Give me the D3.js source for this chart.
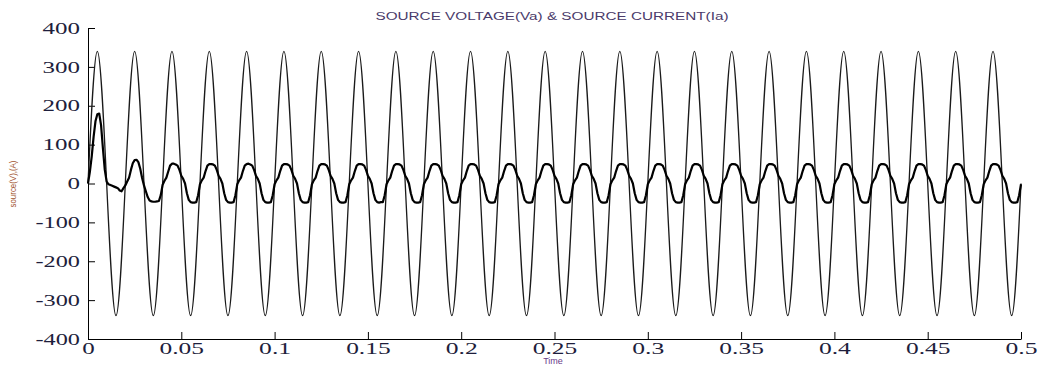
<!DOCTYPE html>
<html>
<head>
<meta charset="utf-8">
<script src="https://cdn.jsdelivr.net/npm/d3@7"></script>
<style>
  body { margin: 0; background: #fff; }
  .axis path, .axis line { stroke: #000; }
</style>
</head>
<body>
<svg id="chart" width="1038" height="365"></svg>
<script>
// time grid of the sampled current (s)
const sampleStep = 0.001;
const halfPeriod = 0.01;

// source voltage, one peak per half cycle (V)
const voltagePeaks = [
  340, -340, 340, -340, 340, -340, 340, -340, 340, -340,
  340, -340, 340, -340, 340, -340, 340, -340, 340, -340,
  340, -340, 340, -340, 340, -340, 340, -340, 340, -340,
  340, -340, 340, -340, 340, -340, 340, -340, 340, -340,
  340, -340, 340, -340, 340, -340, 340, -340, 340, -340
];

// source current sampled every 1 ms (A), one row per 20 ms cycle
const currentValues = [
  0, 30, 70, 120, 160, 178, 180, 150, 90, 35, 5, -2, -4, -6, -8, -10, -12, -18, -20, -12,
  -5, 5, 15, 35, 52, 60, 61, 55, 38, 14, -5, -20, -35, -44, -46, -47, -47, -46, -45, -30,
  -3, 7, 15, 31, 46, 51, 51, 49, 46, 35, 20, 12, 0, -25, -42, -48, -49, -49, -48, -30,
  -2, 8, 15, 32, 46, 50, 50, 49, 46, 35, 20, 12, 0, -25, -42, -48, -49, -49, -48, -30,
  -2, 8, 15, 32, 46, 50, 51, 49, 46, 35, 20, 12, 0, -25, -42, -48, -49, -49, -48, -30,
  -2, 8, 15, 32, 46, 50, 50, 49, 46, 35, 20, 12, 0, -25, -42, -48, -49, -49, -48, -30,
  -2, 8, 15, 32, 46, 50, 50, 49, 46, 35, 20, 12, 0, -25, -42, -48, -49, -49, -48, -30,
  -2, 8, 15, 32, 46, 50, 50, 49, 46, 35, 20, 12, 0, -25, -42, -48, -49, -48, -48, -30,
  -2, 8, 15, 32, 46, 50, 50, 49, 46, 35, 20, 12, 0, -25, -42, -48, -49, -49, -48, -30,
  -2, 8, 15, 32, 46, 50, 50, 49, 46, 35, 20, 12, 0, -25, -42, -48, -49, -49, -48, -30,
  -2, 8, 15, 32, 46, 50, 50, 49, 46, 35, 20, 12, 0, -25, -42, -48, -49, -49, -48, -30,
  -2, 8, 15, 32, 46, 50, 50, 49, 46, 35, 20, 12, 0, -25, -42, -48, -49, -49, -48, -30,
  -2, 8, 15, 32, 46, 50, 50, 49, 46, 35, 20, 12, 0, -25, -42, -48, -49, -49, -48, -30,
  -2, 8, 15, 32, 46, 50, 50, 49, 46, 35, 20, 12, 0, -25, -42, -48, -49, -49, -48, -30,
  -2, 8, 15, 32, 46, 50, 50, 49, 46, 35, 20, 12, 0, -25, -42, -48, -49, -49, -48, -30,
  -2, 8, 15, 32, 46, 50, 50, 49, 46, 35, 20, 12, 0, -25, -42, -48, -49, -49, -48, -30,
  -2, 8, 15, 32, 46, 50, 50, 49, 46, 35, 20, 12, 0, -25, -42, -48, -49, -49, -48, -30,
  -2, 8, 15, 32, 46, 50, 50, 49, 46, 35, 20, 12, 0, -25, -42, -48, -49, -49, -48, -30,
  -2, 8, 15, 32, 46, 50, 50, 49, 46, 35, 20, 12, 0, -25, -42, -48, -49, -49, -48, -30,
  -2, 8, 15, 32, 46, 50, 50, 49, 46, 35, 20, 12, 0, -25, -42, -48, -49, -49, -48, -30,
  -2, 8, 15, 32, 46, 50, 50, 49, 46, 35, 20, 12, 0, -25, -42, -48, -49, -49, -48, -30,
  -2, 8, 15, 32, 46, 50, 50, 49, 46, 35, 20, 12, 0, -25, -42, -48, -49, -49, -48, -30,
  -2, 8, 15, 32, 46, 50, 50, 49, 46, 35, 20, 12, 0, -25, -42, -48, -49, -49, -48, -30,
  -2, 8, 15, 32, 46, 50, 50, 49, 46, 35, 20, 12, 0, -25, -42, -48, -49, -49, -48, -30,
  -2, 8, 15, 32, 46, 50, 50, 49, 46, 35, 20, 12, 0, -25, -42, -48, -49, -49, -48, -30,
  -2
];

const xTicks = [0, 0.05, 0.1, 0.15, 0.2, 0.25, 0.3, 0.35, 0.4, 0.45, 0.5];
const yTicks = [-400, -300, -200, -100, 0, 100, 200, 300, 400];

const svg = d3.select('#chart');
const margin = { top: 28, right: 17, bottom: 26, left: 88 };
const width = +svg.attr('width');
const height = +svg.attr('height');
const innerWidth = width - margin.left - margin.right;
const innerHeight = height - margin.top - margin.bottom;

const grp = svg.append('g')
  .attr('transform', 'translate(' + margin.left + ',' + margin.top + ')');

const xScale = d3.scaleLinear().domain([0, 0.5]).range([0, innerWidth]);
const yScale = d3.scaleLinear().domain([-400, 400]).range([innerHeight, 0]);

// voltage: zero crossings plus the peak of each half cycle
const voltageData = [];
voltagePeaks.forEach((p, i) => {
  voltageData.push({ t: i * halfPeriod, v: 0 });
  voltageData.push({ t: i * halfPeriod + halfPeriod / 2, v: p });
});
voltageData.push({ t: voltagePeaks.length * halfPeriod, v: 0 });

const currentData = currentValues.map((v, i) => ({ t: i * sampleStep, v: v }));

const voltageLine = d3.line()
  .x((d) => xScale(d.t))
  .y((d) => yScale(d.v))
  .curve(d3.curveNatural);

const currentLine = d3.line()
  .x((d) => xScale(d.t))
  .y((d) => yScale(d.v));

// the old plot stretches its serif digits, so give each label a set width
function labelWidth(s) {
  let w = 0;
  for (const c of s) w += (c === '.' || c === '-') ? 7 : 12.5;
  return w;
}

function styleTicks(sel) {
  sel.selectAll('.tick text')
    .style('font-family', '"Liberation Serif", "Times New Roman", serif')
    .style('font-size', '16px')
    .style('fill', '#1e1e3c')
    .attr('textLength', function () { return labelWidth(this.textContent); })
    .attr('lengthAdjust', 'spacingAndGlyphs');
}

grp.append('g')
  .attr('class', 'axis')
  .attr('transform', 'translate(0,' + innerHeight + ')')
  .call(d3.axisBottom(xScale).tickValues(xTicks).tickFormat((d) => String(d))
    .tickSizeInner(-7).tickSizeOuter(0).tickPadding(4))
  .call(styleTicks);

grp.append('g')
  .attr('class', 'axis')
  .call(d3.axisLeft(yScale).tickValues(yTicks).tickFormat((d) => String(d))
    .tickSizeInner(-7).tickSizeOuter(0).tickPadding(8))
  .call(styleTicks);

grp.append('path')
  .datum(voltageData)
  .attr('fill', 'none')
  .attr('stroke', '#1a1a1a')
  .attr('stroke-width', 1.3)
  .attr('d', voltageLine);

grp.append('path')
  .datum(currentData)
  .attr('fill', 'none')
  .attr('stroke', '#000')
  .attr('stroke-width', 2.2)
  .attr('stroke-linejoin', 'round')
  .attr('d', currentLine);

svg.append('text')
  .attr('x', 552)
  .attr('y', 20)
  .attr('text-anchor', 'middle')
  .attr('textLength', 353)
  .attr('lengthAdjust', 'spacingAndGlyphs')
  .style('font-family', 'Liberation Sans, Arial, sans-serif')
  .style('font-size', '10px')
  .style('fill', '#4a3a6a')
  .text('SOURCE VOLTAGE(Va) & SOURCE CURRENT(Ia)');

svg.append('text')
  .attr('x', 553)
  .attr('y', 364)
  .attr('text-anchor', 'middle')
  .style('font-family', 'Liberation Sans, Arial, sans-serif')
  .style('font-size', '9px')
  .style('fill', '#6a3a8a')
  .text('Time');

svg.append('text')
  .attr('transform', 'translate(16,184) rotate(-90)')
  .attr('text-anchor', 'middle')
  .attr('textLength', 47)
  .attr('lengthAdjust', 'spacingAndGlyphs')
  .style('font-family', 'Liberation Sans, Arial, sans-serif')
  .style('font-size', '9px')
  .style('fill', '#a0522d')
  .text('source(V),(A)');
</script>
</body>
</html>
